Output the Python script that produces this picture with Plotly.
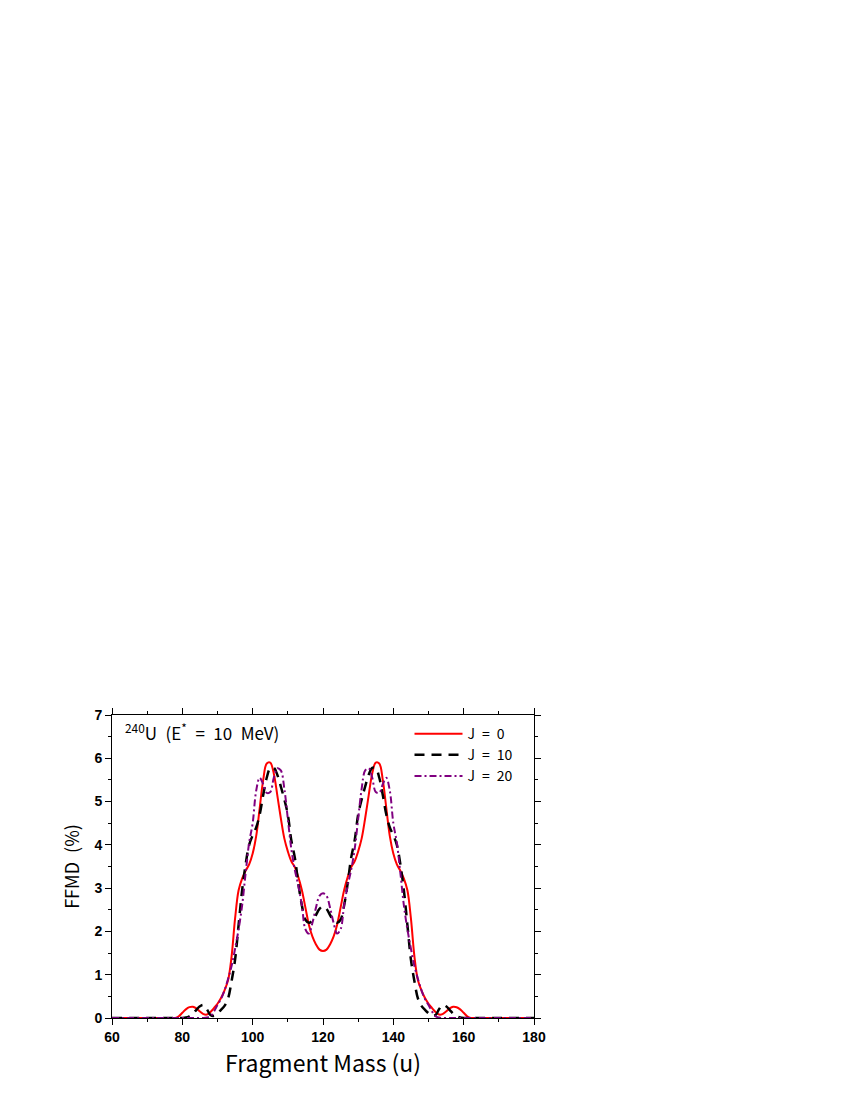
import plotly.graph_objects as go

# fragment mass (u)
mass = [60, 70] + list(range(76, 165)) + [170, 180]

# FFMD (%) for 240U at E* = 10 MeV
j0 = [0, 0,
      0, 0, 0, 0.04, 0.12, 0.2, 0.25, 0.26, 0.22, 0.15,
      0.09, 0.08, 0.14, 0.23, 0.33, 0.46, 0.64, 0.87, 1.42, 2.3,
      2.95, 3.22, 3.4, 3.55, 3.8, 4.2, 4.85, 5.5, 5.88, 5.9,
      5.65, 5.15, 4.62, 4.15, 3.85, 3.62, 3.48, 3.25, 2.95, 2.55,
      2.15, 1.88, 1.7, 1.58, 1.55,
      1.58, 1.7, 1.88, 2.15, 2.55, 2.95, 3.25, 3.48, 3.62, 3.85,
      4.15, 4.62, 5.15, 5.65, 5.9, 5.88, 5.5, 4.85, 4.2, 3.8,
      3.55, 3.4, 3.22, 2.95, 2.3, 1.42, 0.87, 0.64, 0.46, 0.33,
      0.23, 0.14, 0.08, 0.09, 0.15, 0.22, 0.26, 0.25, 0.2, 0.12,
      0.04, 0, 0, 0,
      0, 0]

j10 = [0, 0,
       0, 0, 0, 0, 0, 0.01, 0.04, 0.1, 0.19, 0.27,
       0.3, 0.2, 0.07, 0.05, 0.11, 0.19, 0.28, 0.45, 0.85, 1.35,
       2.15, 2.95, 3.55, 4.0, 4.22, 4.4, 4.7, 5.15, 5.55, 5.77,
       5.78, 5.62, 5.35, 5.05, 4.7, 4.1, 3.7, 3.1, 2.6, 2.27,
       2.2, 2.25, 2.38, 2.52, 2.58,
       2.52, 2.38, 2.25, 2.2, 2.27, 2.6, 3.1, 3.7, 4.1, 4.7,
       5.05, 5.35, 5.62, 5.78, 5.77, 5.55, 5.15, 4.7, 4.4, 4.22,
       4.0, 3.55, 2.95, 2.15, 1.35, 0.85, 0.45, 0.28, 0.19, 0.11,
       0.05, 0.07, 0.2, 0.3, 0.27, 0.19, 0.1, 0.04, 0.01, 0,
       0, 0, 0, 0,
       0, 0]

j20 = [0, 0,
       0, 0, 0, 0, 0, 0, 0, 0, 0, 0,
       0, 0.01, 0.04, 0.15, 0.3, 0.44, 0.64, 0.9, 1.2, 1.6,
       2.05, 2.6, 3.35, 4.05, 4.5, 5.25, 5.55, 5.4, 5.2, 5.22,
       5.55, 5.77, 5.72, 5.3, 4.6, 3.9, 3.42, 3.05, 2.6, 2.05,
       1.95, 2.2, 2.55, 2.82, 2.88,
       2.82, 2.55, 2.2, 1.95, 2.05, 2.6, 3.05, 3.42, 3.9, 4.6,
       5.3, 5.72, 5.77, 5.55, 5.22, 5.2, 5.4, 5.55, 5.25, 4.5,
       4.05, 3.35, 2.6, 2.05, 1.6, 1.2, 0.9, 0.64, 0.44, 0.3,
       0.15, 0.04, 0.01, 0, 0, 0, 0, 0, 0, 0,
       0, 0, 0, 0,
       0, 0]

font_txt = "Noto Sans CJK JP"
font_num = "Liberation Sans"
sp = "\u2002"  # wide spaces like the original gothic font

fig = go.Figure()
fig.add_trace(go.Scatter(x=mass, y=j0, name=f"J{sp}={sp}0", mode="lines", line_shape="spline",
                         line=dict(color="#ff0000", width=2)))
fig.add_trace(go.Scatter(x=mass, y=j10, name=f"J{sp}={sp}10", mode="lines", line_shape="spline",
                         line=dict(color="#000000", width=2.5, dash="10px,7px")))
fig.add_trace(go.Scatter(x=mass, y=j20, name=f"J{sp}={sp}20", mode="lines", line_shape="spline",
                         line=dict(color="#800080", width=2, dash="7px,3px,2px,3px")))

axis_common = dict(showline=True, linecolor="black", linewidth=1, mirror="ticks",
                   ticks="outside", ticklen=6, tickcolor="black", showgrid=False,
                   zeroline=False, tickfont=dict(family=font_num, size=14, color="black", weight="bold"))

fig.update_xaxes(range=[60, 180], dtick=20, tick0=60,
                 minor=dict(dtick=10, ticks="outside", ticklen=3, tickcolor="black"),
                 title=dict(text="Fragment Mass (u)", font=dict(family=font_txt, size=23, color="black"), standoff=6),
                 **axis_common)
fig.update_yaxes(range=[0, 7], dtick=1, tick0=0,
                 minor=dict(dtick=0.5, ticks="outside", ticklen=3, tickcolor="black"),
                 title=dict(text=f"FFMD{sp}(%)", font=dict(family=font_txt, size=18, color="black"), standoff=10),
                 **axis_common)

fig.add_annotation(x=0.025, y=0.995, xref="paper", yref="paper", xanchor="left", yanchor="top",
                   text=f"<sup>240</sup>U{sp}(E<sup>*</sup>{sp}={sp}10{sp}MeV)", showarrow=False,
                   font=dict(family=font_txt, size=17, color="black"))

fig.update_layout(
    width=850, height=1100,
    margin=dict(l=104, r=324, t=707, b=90),
    plot_bgcolor="white", paper_bgcolor="white",
    legend=dict(x=0.705, y=0.99, xanchor="left", yanchor="top", bgcolor="rgba(0,0,0,0)",
                font=dict(family=font_txt, size=14, color="black"), tracegroupgap=0,
                itemwidth=48),
    showlegend=True,
)

fig.write_html("out.html")
